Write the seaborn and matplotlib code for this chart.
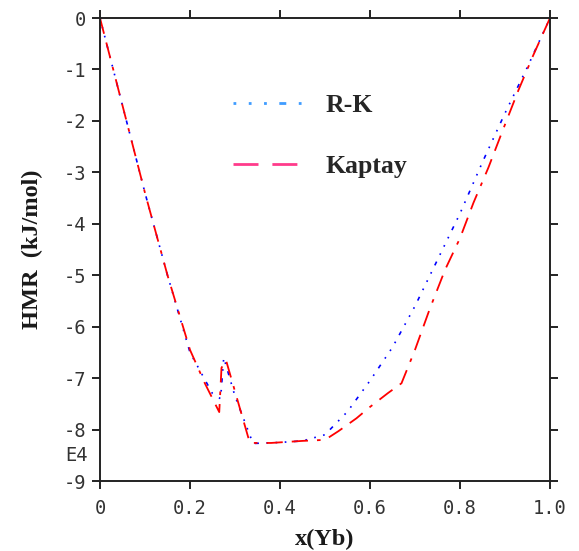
import numpy as np
import pandas as pd
import matplotlib
matplotlib.use('Agg')
import matplotlib.pyplot as plt
import seaborn as sns

# 数据
x_rk = [0, 0.05, 0.10, 0.15, 0.20, 0.25, 0.268, 0.275, 0.30, 0.34, 0.40, 0.45,
        0.50, 0.55, 0.60, 0.65, 0.70, 0.75, 0.80, 0.85, 0.90, 0.95, 1.0]
y_rk = [0, -1.7, -3.4, -5.0, -6.5, -7.3, -7.4, -6.6, -7.35, -8.27, -8.25, -8.22,
        -8.1, -7.65, -7.05, -6.4, -5.6, -4.7, -3.8, -2.8, -1.85, -0.95, 0]

x_kaptay = [0, 0.05, 0.10, 0.15, 0.20, 0.233, 0.265, 0.27, 0.28, 0.307, 0.333,
            0.38, 0.45, 0.50, 0.53, 0.57, 0.60, 0.64, 0.67, 0.70, 0.733, 0.767,
            0.80, 0.83, 0.863, 0.896, 0.93, 0.963, 1.0]
y_kaptay = [0, -1.7, -3.4, -5.0, -6.45, -7.1, -7.66, -6.8, -6.65, -7.47, -8.26,
            -8.26, -8.22, -8.2, -8.03, -7.78, -7.56, -7.29, -7.1, -6.45, -5.65, -4.89,
            -4.28, -3.59, -2.91, -2.16, -1.40, -0.72, 0]

series_names = ['R-K', 'Kaptay']
x_ticks = [0, 0.2, 0.4, 0.6, 0.8, 1.0]
x_ticklabels = ['0', '0.2', '0.4', '0.6', '0.8', '1.0']
y_ticks = [0, -1, -2, -3, -4, -5, -6, -7, -8, -9]
y_ticklabels = ['0', '-1', '-2', '-3', '-4', '-5', '-6', '-7', '-8', '-9']

df_rk = pd.DataFrame({'x': x_rk, 'y': y_rk})
df_kaptay = pd.DataFrame({'x': x_kaptay, 'y': y_kaptay})

sns.set_style('ticks')
plt.rcParams['font.family'] = ['DejaVu Sans Mono']

fig = plt.figure(figsize=(5.79, 5.51), dpi=100)
ax = fig.add_axes([0.1727, 0.127, 0.7772, 0.8403])

sns.lineplot(data=df_rk, x='x', y='y', ax=ax, color='#0000ff', lw=1.2,
             linestyle=(0, (1, 4.5, 1, 4.5, 1, 4.5, 2.5, 4.5)), label=series_names[0],
             estimator=None, sort=False)
sns.lineplot(data=df_kaptay, x='x', y='y', ax=ax, color='#ff0000', lw=1.3,
             linestyle=(0, (9, 5, 9, 5, 2, 5)), label=series_names[1],
             estimator=None, sort=False)

ax.set_xlim(0, 1.0)
ax.set_ylim(-9, 0)
ax.set_xticks(x_ticks)
ax.set_xticklabels(x_ticklabels)
ax.set_yticks(y_ticks)
ax.set_yticklabels(y_ticklabels)

for s in ax.spines.values():
    s.set_visible(True)
    s.set_linewidth(1.4)
    s.set_color('#222222')
ax.tick_params(axis='both', which='both', direction='out', length=6, width=1.4,
               color='#222222', labelsize=13.5, labelcolor='#333333', pad=4,
               top=True, right=True)
ax.tick_params(axis='x', pad=7)

serif = dict(family='Liberation Serif', weight='bold', color='#1a1a1a')
ax.set_xlabel('x(Yb)', fontsize=17.5, labelpad=8, **serif)
ax.set_ylabel('HMR  (kJ/mol)', fontsize=17.5, labelpad=15, **serif)

fig.text(0.152, 0.174, 'E4', ha='right', va='center', fontsize=13.5, color='#333333')

leg = ax.legend(loc='upper left', bbox_to_anchor=(0.245, 0.885), frameon=False,
                handlelength=2.8, labelspacing=1.45, handletextpad=0.8,
                prop={'family': 'Liberation Serif', 'weight': 'bold', 'size': 18.5})
leg.get_lines()[0].set_color('#3f9cff')
leg.get_lines()[1].set_color('#ff3b8b')
for ln in leg.get_lines():
    ln.set_linewidth(2)

fig.savefig('out.png', dpi=100, facecolor='white')
